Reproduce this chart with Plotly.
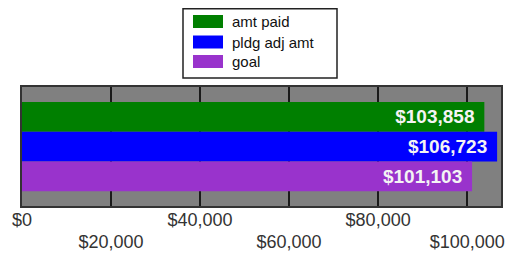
import plotly.graph_objects as go

series_names = ["amt paid", "pldg adj amt", "goal"]
series_values = [103858, 106723, 101103]
series_colors = ["#007F00", "#0000FF", "#9933CC"]
category = [""]
tick_vals_row1 = [0, 40000, 80000]
tick_text_row1 = ["$0", "$40,000", "$80,000"]
tick_vals_row2 = [20000, 60000, 100000]
tick_text_row2 = ["$20,000", "$60,000", "$100,000"]

OFF = 8  # page body margin
W, H = 514 - OFF, 253 - OFF
L, R, T, B = 14, 13, 79, 47
pw, ph = W - L - R, H - T - B

def px(x):
    return (x - OFF - L) / pw

def py(y):
    return (H - B - (y - OFF)) / ph

fig = go.Figure()
for name, val, col in zip(series_names, series_values, series_colors):
    fig.add_trace(go.Bar(
        y=category, x=[val], name=name, orientation="h",
        marker=dict(color=col, line=dict(width=0)),
        text=[f"${val:,}\u00a0\u200a"], textposition="inside",
        insidetextanchor="end",
        textfont=dict(family="Liberation Sans, Arial", size=19, color="#F4F4F4", weight="bold"),
        showlegend=False,
    ))
# empty helper trace so the second (label-only) x axis is drawn
fig.add_trace(go.Scatter(x=[], y=[], xaxis="x2", yaxis="y", showlegend=False,
                         hoverinfo="skip", mode="markers"))

shapes = [dict(type="rect", xref="paper", yref="paper",
               x0=px(183), x1=px(337), y0=py(8.8), y1=py(78),
               line=dict(color="#222", width=1.5), fillcolor="white")]
annotations = []
row_centers = [21.5, 42, 61.5]
for name, col, cy in zip(series_names, series_colors, row_centers):
    shapes.append(dict(type="rect", xref="paper", yref="paper",
                       x0=px(193), x1=px(223), y0=py(cy - 6.5), y1=py(cy + 6.5),
                       line=dict(width=0), fillcolor=col))
    annotations.append(dict(xref="paper", yref="paper", x=px(230), y=py(cy),
                            xanchor="left", yanchor="middle", text=name, showarrow=False,
                            font=dict(family="Liberation Sans, Arial", size=15, color="#111")))

tickfont = dict(family="Liberation Sans, Arial", size=18, color="#333")
xr = [0, 107600]
fig.update_layout(
    width=W, height=H, margin=dict(l=L, r=R, t=T, b=B),
    paper_bgcolor="white", plot_bgcolor="#808080",
    barmode="group", bargap=0.25, bargroupgap=0,
    shapes=shapes, annotations=annotations,
    uniformtext=dict(mode=False),
    xaxis=dict(range=xr, tickvals=tick_vals_row1 + tick_vals_row2,
               ticktext=tick_text_row1 + [""] * len(tick_vals_row2), automargin=False,
               showgrid=True, gridcolor="#1a1a1a", gridwidth=1.5,
               zeroline=False, showline=True, linecolor="#333", linewidth=1.5, mirror=True,
               ticks="", ticklabelstandoff=-3, tickfont=tickfont),
    xaxis2=dict(range=xr, overlaying="x", anchor="y", side="bottom",
                tickvals=tick_vals_row2, ticktext=tick_text_row2, automargin=False,
                showgrid=False, zeroline=False, showline=False,
                ticks="", ticklabelstandoff=23, tickfont=tickfont),
    yaxis=dict(autorange="reversed", showticklabels=False, showgrid=False, zeroline=False,
               automargin=False,
               showline=True, linecolor="#333", linewidth=1.5, mirror=True, ticks=""),
    font=dict(family="Liberation Sans, Arial"),
)
fig.write_html("out.html")
